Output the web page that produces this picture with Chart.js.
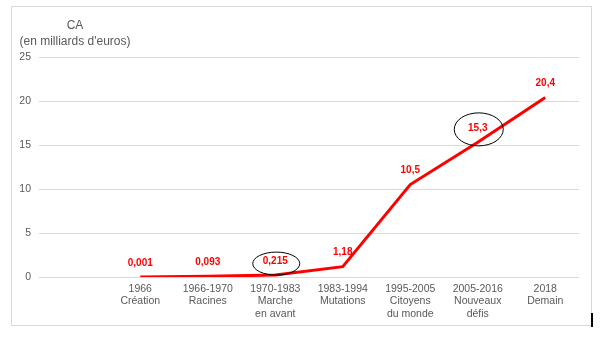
<!DOCTYPE html>
<html>
<head>
<meta charset="utf-8">
<script src="https://cdn.jsdelivr.net/npm/chart.js@4.4.1/dist/chart.umd.min.js"></script>
<style>
  body { margin: 0; background: #fff; }
  #box { position: absolute; left: 11px; top: 6px; width: 579px; height: 318px; border: 1px solid #d9d9d9; }
  #tick { position: absolute; left: 591px; top: 313px; width: 2px; height: 14px; background: #000; }
</style>
</head>
<body>
<div id="box"><canvas id="caChart" width="579" height="318"></canvas></div>
<div id="tick"></div>
<script>
// periods (first slot left empty, as on the original slide)
const periods = [
  '',
  ['1966', 'Création'],
  ['1966-1970', 'Racines'],
  ['1970-1983', 'Marche', 'en avant'],
  ['1983-1994', 'Mutations'],
  ['1995-2005', 'Citoyens', 'du monde'],
  ['2005-2016', 'Nouveaux', 'défis'],
  ['2018', 'Demain']
];
// chiffre d'affaires, milliards d'euros
const revenue = [null, 0.001, 0.093, 0.215, 1.18, 10.5, 15.3, 20.4];
const yTicks = [0, 5, 10, 15, 20, 25];
// values highlighted with a hand-drawn ellipse
const circled = [3, 6];

const grey = '#595959';

const fmt = v => String(v).replace('.', ',');

// axis title in the top-left corner
const axisTitle = {
  id: 'axisTitle',
  beforeDraw(chart) {
    const ctx = chart.ctx;
    ctx.save();
    ctx.fillStyle = grey;
    ctx.font = '12px "Liberation Sans", Arial, sans-serif';
    ctx.textAlign = 'center';
    ctx.textBaseline = 'middle';
    ctx.fillText('CA', 63, 19);
    ctx.fillText("(en milliards d'euros)", 63, 35);
    ctx.restore();
  }
};

// value labels above each point, plus the ellipses
const valueLabels = {
  id: 'valueLabels',
  afterDatasetsDraw(chart) {
    const ctx = chart.ctx;
    const meta = chart.getDatasetMeta(0);
    ctx.save();
    ctx.font = 'bold 10px "Liberation Sans", Arial, sans-serif';
    ctx.fillStyle = '#ff0000';
    ctx.textAlign = 'center';
    ctx.textBaseline = 'middle';
    meta.data.forEach((pt, i) => {
      const v = revenue[i];
      if (v === null) return;
      ctx.fillText(fmt(v), pt.x, pt.y - 14);
    });
    ctx.strokeStyle = '#000';
    ctx.lineWidth = 1;
    circled.forEach(i => {
      const pt = meta.data[i];
      const big = i === 6;
      ctx.beginPath();
      ctx.ellipse(pt.x + 1, pt.y - (big ? 13 : 11.5), big ? 24.5 : 23.5, big ? 16.5 : 11.5, 0, 0, Math.PI * 2);
      ctx.stroke();
    });
    ctx.restore();
  }
};

new Chart(document.getElementById('caChart'), {
  type: 'line',
  data: {
    labels: periods,
    datasets: [{
      data: revenue,
      borderColor: '#ff0000',
      borderWidth: 3,
      pointRadius: 0,
      tension: 0,
      spanGaps: false
    }]
  },
  options: {
    responsive: false,
    devicePixelRatio: 1,
    animation: false,
    layout: { padding: { top: 50, right: 12, bottom: 0, left: 0 } },
    plugins: { legend: { display: false }, tooltip: { enabled: false } },
    scales: {
      x: {
        offset: true,
        afterFit(scale) { scale.height = 48; },
        grid: { display: false, drawTicks: false, offset: true },
        border: { display: false },
        ticks: {
          color: grey,
          padding: 6,
          maxRotation: 0,
          autoSkip: false,
          font: { family: '"Liberation Sans", Arial, sans-serif', size: 10.5, lineHeight: 1.17 }
        }
      },
      y: {
        min: 0,
        max: 25,
        afterFit(scale) { scale.width = 27; },
        afterBuildTicks(scale) { scale.ticks = yTicks.map(v => ({ value: v })); },
        grid: { color: '#d9d9d9', drawTicks: false },
        border: { display: false },
        ticks: {
          color: grey,
          padding: 8,
          font: { family: '"Liberation Sans", Arial, sans-serif', size: 10.5 }
        }
      }
    }
  },
  plugins: [axisTitle, valueLabels]
});
</script>
</body>
</html>
